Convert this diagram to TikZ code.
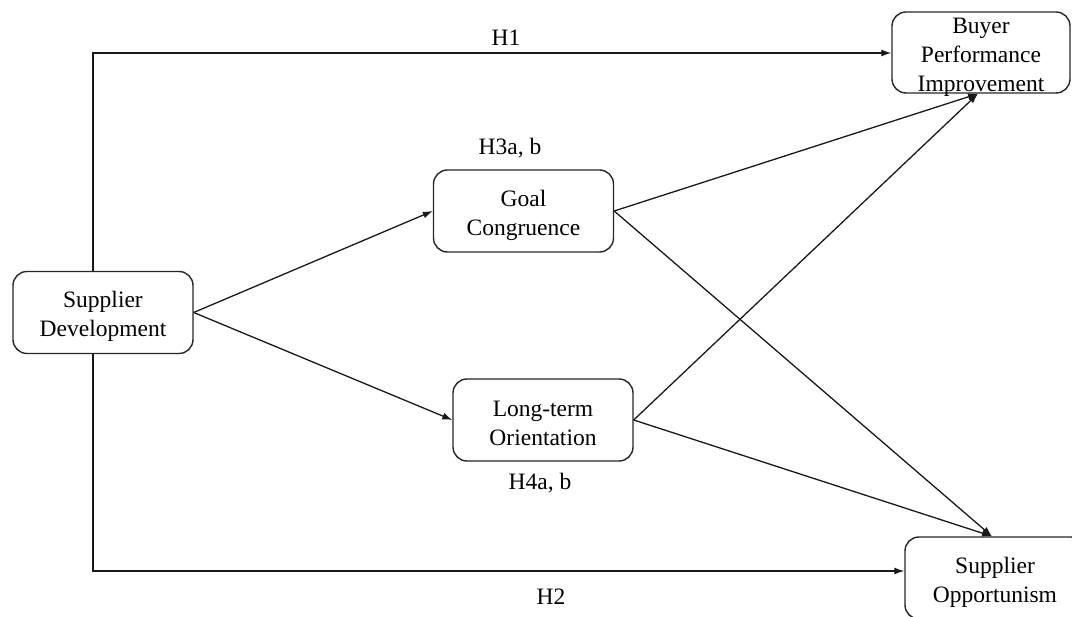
\documentclass[tikz,border=0pt]{standalone}
\usepackage{fontspec}
\setmainfont{Liberation Serif}
\usetikzlibrary{arrows.meta}
\begin{document}
\begin{tikzpicture}[x=1pt,y=-1pt,
  box/.style={draw=black!85,line width=1.4pt,rounded corners=14pt,minimum width=180pt,minimum height=82pt,inner sep=0pt},
  txt/.style={align=center,inner sep=0pt,font=\fontsize{23.5}{29}\selectfont},
  lbl/.style={inner sep=0pt,font=\fontsize{23.5}{29}\selectfont},
  arr/.style={line width=1.3pt,draw=black!90,-{Latex[length=10pt,width=7pt]}}]
\useasboundingbox (0,0) rectangle (1072,617);
\node[box] (sd) at (103,312.5) {};
\node[txt] (sdt) at ([yshift=-4pt]sd.center) {Supplier\\Development};
\node[box] (gc) at (523.5,211) {};
\node[txt] (gct) at ([yshift=-4pt]gc.center) {Goal\\Congruence};
\node[box] (lto) at (543,420) {};
\node[txt] (ltot) at ([yshift=-3pt]lto.center) {Long-term\\Orientation};
\node[box,minimum width=178pt,minimum height=81pt] (bpi) at (981,52.5) {};
\node[txt] (bpit) at ([yshift=-5pt]bpi.center) {Buyer\\Performance\\Improvement};
\node[box] (so) at (995,578) {};
\node[txt] (sot) at ([yshift=-4pt]so.center) {Supplier\\Opportunism};
\coordinate (h1c) at (93,53);
\coordinate (h2c) at (93,571);
\draw[arr] (sd.north -| h1c) -- (h1c) -- (h1c -| bpi.west);
\draw[arr] (sd.south -| h2c) -- (h2c) -- (h2c -| so.west);
\draw[arr] (sd.east) -- (gc.west);
\draw[arr] (sd.east) -- (lto.west);
\draw[arr] (gc.east) -- ([xshift=-3pt]bpi.south);
\draw[arr] (lto.east) -- ([xshift=-3pt]bpi.south);
\draw[arr] (gc.east) -- ([xshift=-3pt]so.north);
\draw[arr] (lto.east) -- ([xshift=-3pt]so.north);
\node[lbl] (h1) at (506,38) {H1};
\node[lbl] (h2) at (551,597) {H2};
\node[lbl] (h3) at (510,148) {H3a, b};
\node[lbl] (h4) at (540,483) {H4a, b};
\end{tikzpicture}
\end{document}
